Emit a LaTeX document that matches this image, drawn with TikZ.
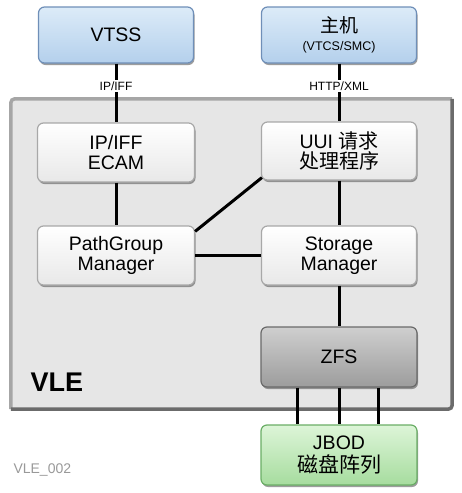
\documentclass[tikz,border=0pt]{standalone}
\usepackage{fontspec}
\setmainfont{Liberation Sans}
\newfontfamily\cjk{Noto Sans CJK SC}
\usetikzlibrary{shadows,calc}
\definecolor{bluetop}{HTML}{DCEBF8}
\definecolor{bluebot}{HTML}{B4D0EC}
\definecolor{blueedge}{HTML}{6F8FB8}
\definecolor{whitetop}{HTML}{FFFFFF}
\definecolor{whitebot}{HTML}{E8E8E8}
\definecolor{whiteedge}{HTML}{A8A8A8}
\definecolor{graytop}{HTML}{CFCFCF}
\definecolor{graybot}{HTML}{9C9C9C}
\definecolor{grayedge}{HTML}{6A6A6A}
\definecolor{greentop}{HTML}{DDF5D8}
\definecolor{greenbot}{HTML}{A6DC9E}
\definecolor{greenedge}{HTML}{6AAE66}
\definecolor{vlefill}{HTML}{E6E6E6}
\tikzset{
  boxbase/.style={rounded corners=6pt, line width=1.2pt, align=center,
    font=\fontsize{19.5}{19.5}\selectfont,
    drop shadow={shadow xshift=1pt, shadow yshift=-2pt, opacity=0.55, fill=black!70}},
  bluebox/.style={boxbase, draw=blueedge, top color=bluetop, bottom color=bluebot},
  whitebox/.style={boxbase, draw=whiteedge, top color=whitetop, bottom color=whitebot},
  graybox/.style={boxbase, draw=grayedge, top color=graytop, bottom color=graybot},
  greenbox/.style={boxbase, draw=greenedge, top color=greentop, bottom color=greenbot},
  link/.style={line width=3pt, black},
  proto/.style={fill=white, inner sep=1.5pt, font=\fontsize{12}{12}\selectfont}
}
\begin{document}
\begin{tikzpicture}[x=1pt,y=-1pt]
\useasboundingbox (0,0) rectangle (462,493);
% VLE container
\node[draw=none, fill=vlefill, minimum width=441pt, minimum height=310pt, inner sep=0pt] (vle) at (231.5,254) {};
\draw[line width=3.5pt, color=black!35, rounded corners=4pt] (vle.south west) -- (vle.north west) -- (vle.north east);
\draw[line width=3.5pt, color=black!58, rounded corners=4pt] (vle.north east) -- (vle.south east) -- (vle.south west);
\node[anchor=west, font=\fontsize{27}{27}\selectfont\bfseries] (vlelabel) at (27,382) {VLE};

% top boxes
\node[bluebox, minimum width=155pt, minimum height=56pt] (vtss) at (116,35) {VTSS};
\node[bluebox, minimum width=155pt, minimum height=56pt] (host) at (339,35) {{\cjk\fontsize{19}{19}\selectfont 主机}\\[-1pt]{\fontsize{12.5}{12.5}\selectfont (VTCS/SMC)}};

% inner boxes
\node[whitebox, minimum width=157pt, minimum height=59pt] (ecam) at (116,152.5) {IP/IFF\\ECAM};
\node[whitebox, minimum width=155pt, minimum height=58pt] (uui) at (339,151) {UUI {\cjk\fontsize{20}{20}\selectfont 请求}\\[1pt]{\cjk\fontsize{20}{20}\selectfont 处理程序}};
\node[whitebox, minimum width=157pt, minimum height=59pt] (pgm) at (116,255.5) {PathGroup\\Manager};
\node[whitebox, minimum width=155pt, minimum height=59pt] (stor) at (339,255.5) {Storage\\Manager};
\node[graybox, minimum width=156pt, minimum height=60pt] (zfs) at (339,357) {ZFS};
\node[greenbox, minimum width=156pt, minimum height=60pt] (jbod) at (339,455) {JBOD\\[3pt]{\cjk\fontsize{21}{21}\selectfont 磁盘阵列}};

% connectors
\draw[link] (vtss.south) -- (ecam.north);
\draw[link] (host.south) -- (uui.north);
\node[proto] (lip) at (116,86) {IP/IFF};
\node[proto] (lhttp) at (339,86) {HTTP/XML};
\draw[link] (ecam.south) -- (pgm.north);
\draw[link] (uui.south) -- (stor.north);
\draw[link] ([yshift=-6pt]pgm.north east) -- ([yshift=3pt,xshift=1pt]uui.south west);
\draw[link] (pgm.east) -- (stor.west);
\draw[link] (stor.south) -- (zfs.north);
\draw[link] ([xshift=-42pt]zfs.south) -- ([xshift=-42pt]jbod.north);
\draw[link] (zfs.south) -- (jbod.north);
\draw[link] ([xshift=39pt]zfs.south) -- ([xshift=39pt]jbod.north);

\node[anchor=west, text=black!40, font=\fontsize{14}{14}\selectfont] (ref) at (10,470) {VLE\_002};
\end{tikzpicture}
\end{document}
